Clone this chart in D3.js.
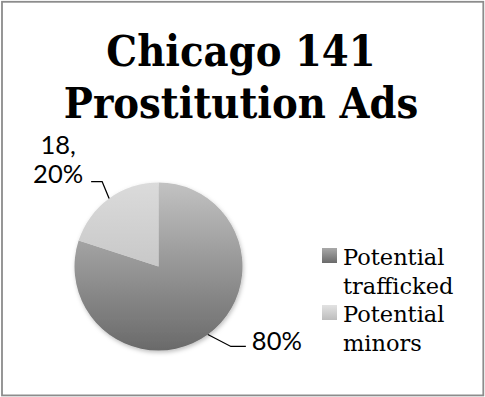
<!DOCTYPE html>
<html>
<head>
<meta charset="utf-8">
<script src="https://cdn.jsdelivr.net/npm/d3@7"></script>
<style>
  html, body { margin: 0; padding: 0; background: #fff; }
  svg { display: block; }
</style>
</head>
<body>
<div id="chart"></div>
<script>
// Chicago ad breakdown: two categories in one pie
const categories = ["Potential trafficked", "Potential minors"];
const values = [72, 18];
const titleLines = ["Chicago 141", "Prostitution Ads"];
const legendLines = [["Potential", "trafficked"], ["Potential", "minors"]];

const W = 485, H = 397;
const svg = d3.select("#chart").append("svg")
  .attr("width", W).attr("height", H);

const defs = svg.append("defs");

// vertical shading per slice
const grads = [
  { id: "g0", top: "#c2c2c2", bot: "#6a6a6a" },
  { id: "g1", top: "#dbdbdb", bot: "#c8c8c8" }
];
grads.forEach(g => {
  const lg = defs.append("linearGradient").attr("id", g.id)
    .attr("x1", 0).attr("y1", 0).attr("x2", 0).attr("y2", 1);
  lg.append("stop").attr("offset", "0%").attr("stop-color", g.top);
  lg.append("stop").attr("offset", "100%").attr("stop-color", g.bot);
});
const sw = [
  { id: "s0", top: "#a9a9a9", bot: "#6a6a6a" },
  { id: "s1", top: "#e2e2e2", bot: "#bdbdbd" }
];
sw.forEach(g => {
  const lg = defs.append("linearGradient").attr("id", g.id)
    .attr("x1", 0).attr("y1", 0).attr("x2", 0).attr("y2", 1);
  lg.append("stop").attr("offset", "0%").attr("stop-color", g.top);
  lg.append("stop").attr("offset", "100%").attr("stop-color", g.bot);
});

const shadow = defs.append("filter").attr("id", "shadow")
  .attr("x", "-20%").attr("y", "-20%").attr("width", "140%").attr("height", "140%");
shadow.append("feDropShadow").attr("dx", 1).attr("dy", 2)
  .attr("stdDeviation", 2).attr("flood-color", "#000").attr("flood-opacity", 0.25);

// frame
svg.append("rect")
  .attr("x", 2).attr("y", 1.8).attr("width", 481.3).attr("height", 393.6)
  .attr("fill", "#fff").attr("stroke", "#8c8c8c").attr("stroke-width", 1.8);

// title
const title = svg.append("text")
  .attr("text-anchor", "middle")
  .attr("font-family", "'DejaVu Serif Condensed', 'DejaVu Serif', serif")
  .attr("font-weight", "bold")
  .attr("font-size", 43)
  .attr("fill", "#000");
titleLines.forEach((t, i) => {
  title.append("tspan").attr("x", 241).attr("y", 66 + i * 52).text(t);
});

// pie
const cx = 158.5, cy = 266.5, r = 84;
const total = d3.sum(values);
const pie = d3.pie().sort(null).value(d => d)(values);
const arc = d3.arc().innerRadius(0).outerRadius(r);

const g = svg.append("g").attr("transform", `translate(${cx},${cy})`);
g.append("g").attr("filter", "url(#shadow)")
  .selectAll("path").data(pie).join("path")
  .attr("d", arc)
  .attr("fill", (d, i) => `url(#g${i})`);

// data labels with leader lines
const fmt = d3.format(".0%");
const labelFont = "Lato, 'Liberation Sans', sans-serif";
const edge = d => {
  const a = (d.startAngle + d.endAngle) / 2;
  return [cx + r * Math.sin(a), cy - r * Math.cos(a)];
};

// trafficked: percentage only, bottom right
{
  const d = pie[0];
  const [ex, ey] = edge(d);
  svg.append("polyline")
    .attr("points", [[ex, ey], [ex + 23, ey + 12], [ex + 38, ey + 12]].map(p => p.join(",")).join(" "))
    .attr("fill", "none").attr("stroke", "#000").attr("stroke-width", 1.3);
  svg.append("text")
    .attr("x", ex + 44).attr("y", ey + 16)
    .attr("font-family", labelFont).attr("font-size", 25.5)
    .attr("fill", "#000")
    .text(fmt(d.data / total));
}
// minors: value and percentage, upper left
{
  const d = pie[1];
  const [ex, ey] = edge(d);
  svg.append("polyline")
    .attr("points", [[ex, ey], [ex - 7, ey - 17], [ex - 18, ey - 17]].map(p => p.join(",")).join(" "))
    .attr("fill", "none").attr("stroke", "#000").attr("stroke-width", 1.3);
  const t = svg.append("text")
    .attr("text-anchor", "middle")
    .attr("font-family", labelFont).attr("font-size", 25.5)
    .attr("fill", "#000");
  t.append("tspan").attr("x", ex - 51).attr("y", ey - 45).text(d.data + ",");
  t.append("tspan").attr("x", ex - 51).attr("y", ey - 16).text(fmt(d.data / total));
}

// legend
const legend = svg.append("g");
categories.forEach((c, i) => {
  const y0 = 248 + i * 57;
  legend.append("rect")
    .attr("x", 322).attr("y", y0).attr("width", 15).attr("height", 15)
    .attr("fill", `url(#s${i})`);
  const t = legend.append("text")
    .attr("font-family", "'DejaVu Serif', serif")
    .attr("font-size", 22.5)
    .attr("fill", "#000");
  legendLines[i].forEach((ln, j) => {
    t.append("tspan").attr("x", 343).attr("y", y0 + 17 + j * 28.5).text(ln);
  });
});
</script>
</body>
</html>
